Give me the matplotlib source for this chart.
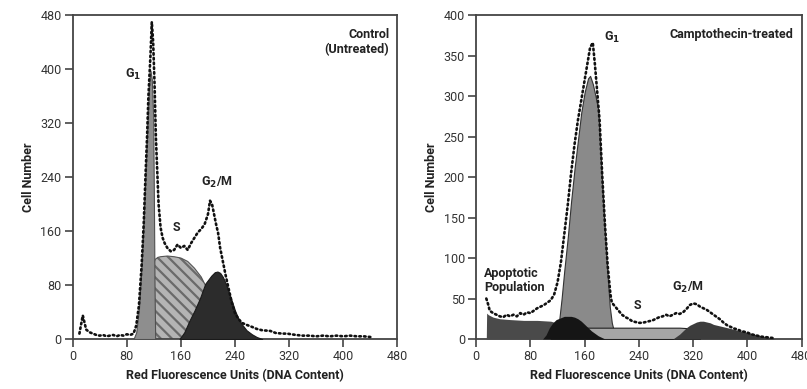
import matplotlib
matplotlib.use("Agg")
import matplotlib.pyplot as plt
import numpy as np

FONT = ['Liberation Sans Narrow', 'Roboto', 'DejaVu Sans']
plt.rcParams['font.family'] = FONT
plt.rcParams['hatch.linewidth'] = 1.6

# ---------------- Control (untreated) ----------------
ctrl_x = [10, 15, 20, 25, 30, 35, 40, 45, 50, 55, 60, 65, 70, 75, 80, 85, 90, 94,
          98, 102, 105, 108, 110, 112, 115, 117, 119, 121, 123, 125, 127, 130, 133,
          136, 140, 145, 150, 155, 160, 165, 170, 175, 180, 185, 190, 195, 200, 203,
          206, 209, 212, 215, 218, 222, 226, 230, 235, 240, 245, 250, 257, 265, 272,
          280, 292, 300, 310, 317, 330, 340, 350, 360, 370, 380, 390, 400, 410, 420,
          430, 440]
ctrl_y = [8, 35, 14, 10, 8, 6, 5, 6, 4, 5, 6, 4, 6, 5, 7, 6, 8, 20,
          50, 110, 170, 250, 300, 360, 420, 470, 440, 380, 300, 250, 200, 165, 150,
          142, 135, 130, 132, 140, 135, 138, 132, 142, 150, 158, 163, 170, 185, 205,
          200, 185, 170, 157, 135, 115, 95, 77, 55, 38, 30, 24, 21, 18, 15,
          13, 12, 9, 8, 8, 6, 5, 5, 4, 5, 4, 5, 4, 5, 4,
          4, 3]

ctrl_g1_x = [90, 94, 98, 102, 106, 110, 113, 115, 117, 119, 120, 121, 122]
ctrl_g1_y = [0, 10, 45, 110, 200, 300, 375, 398, 385, 330, 220, 80, 0]

ctrl_s_x = [115, 117, 119, 122, 126, 130, 140, 150, 160, 170, 180, 190, 200, 210, 215, 220]
ctrl_s_y = [0, 80, 110, 118, 121, 122, 123, 122, 120, 115, 105, 92, 72, 45, 25, 0]

ctrl_g2_x = [158, 165, 173, 180, 188, 196, 205, 210, 214, 218, 222, 226, 230, 235,
             240, 245, 250, 257, 265, 272, 280]
ctrl_g2_y = [0, 10, 28, 42, 60, 82, 94, 99, 100, 98, 92, 83, 72, 57,
             42, 30, 22, 13, 7, 3, 0]

# ---------------- Camptothecin-treated ----------------
camp_x = [15, 18, 20, 25, 30, 35, 40, 45, 50, 55, 60, 65, 70, 75, 80, 85, 90, 95,
          100, 105, 110, 115, 120, 125, 130, 135, 140, 145, 150, 155, 160, 165, 168,
          172, 175, 178, 182, 186, 190, 194, 198, 200, 205, 210, 215, 220, 225, 230,
          235, 240, 245, 250, 255, 260, 265, 270, 275, 280, 285, 290, 295, 300, 305,
          310, 315, 320, 325, 330, 335, 340, 345, 350, 355, 360, 365, 370, 375, 380,
          385, 390, 395, 400, 405, 410, 415, 420, 430, 440]
camp_y = [50, 42, 35, 32, 30, 28, 27, 30, 28, 30, 28, 32, 30, 33, 32, 35, 38, 40,
          42, 45, 48, 55, 70, 95, 130, 165, 205, 240, 270, 295, 320, 345, 360,
          366, 340, 310, 270, 200, 140, 90, 55, 45, 40, 35, 30, 27, 25, 22,
          21, 20, 20, 21, 22, 23, 25, 27, 28, 30, 28, 30, 32, 31, 33,
          37, 42, 44, 43, 40, 38, 36, 33, 30, 27, 24, 20, 17, 15, 13,
          12, 10, 9, 8, 6, 5, 4, 3, 2, 1]

camp_apo_x = [15, 15.5, 18, 25, 35, 50, 70, 90, 110, 118, 120]
camp_apo_y = [0, 32, 30, 27, 25, 24, 23, 23, 22, 20, 0]

camp_s_x = [110, 120, 200, 250, 300, 320, 330]
camp_s_y = [0, 14, 14, 14, 14, 13, 0]

camp_g1_x = [118, 122, 126, 130, 135, 140, 145, 150, 155, 160, 165, 168, 172, 176,
             180, 184, 188, 192, 197, 200, 203, 206]
camp_g1_y = [0, 20, 50, 85, 125, 170, 210, 245, 280, 305, 322, 325, 315, 300,
             283, 220, 158, 100, 40, 20, 10, 0]

camp_bump_x = [98, 103, 108, 113, 118, 124, 130, 140, 145, 150, 155, 160, 165, 170,
               175, 180, 185, 190]
camp_bump_y = [0, 5, 14, 20, 24, 26, 28, 28, 27, 25, 22, 18, 14, 10,
               7, 4, 2, 0]

camp_g2_x = [290, 295, 300, 305, 310, 315, 320, 325, 330, 335, 340, 345, 350, 355,
             360, 370, 380, 390, 400, 410, 420, 430, 440]
camp_g2_y = [0, 3, 6, 10, 14, 17, 19, 21, 22, 22, 21, 20, 18, 17,
             16, 14, 12, 10, 8, 6, 4, 2, 0]

x_ticks = [0, 80, 160, 240, 320, 400, 480]
ctrl_yticks = [0, 80, 160, 240, 320, 400, 480]
camp_yticks = [0, 50, 100, 150, 200, 250, 300, 350, 400]

fig = plt.figure(figsize=(8.07, 3.89), dpi=100)
ax1 = fig.add_axes([0.090, 0.1285, 0.4025, 0.8325])
ax2 = fig.add_axes([0.590, 0.1285, 0.4035, 0.8325])

def style(ax, yticks, ymax):
    ax.set_xlim(0, 480)
    ax.set_ylim(0, ymax)
    ax.set_xticks(x_ticks)
    ax.set_yticks(yticks)
    for s in ax.spines.values():
        s.set_color('#444444')
        s.set_linewidth(1.3)
    ax.tick_params(direction='out', length=6, width=1.2, color='#444444',
                   labelsize=9, labelcolor='#333333', pad=2)
    ax.set_xlabel('Red Fluorescence Units (DNA Content)', fontsize=9,
                  fontweight='bold', color='#222222', labelpad=4)
    ax.set_ylabel('Cell Number', fontsize=9, fontweight='bold', color='#222222',
                  labelpad=4)

dots = dict(color='#111111', lw=1.9, linestyle=(0, (0.6, 1.2)),
            dash_capstyle='round', zorder=6)

# Left panel
ax1.fill_between(ctrl_s_x, ctrl_s_y, color='#b4b4b4', hatch='\\\\\\',
                 edgecolor='#6a6a6a', linewidth=0, zorder=2)
ax1.plot(ctrl_s_x, ctrl_s_y, color='#555555', lw=0.8, zorder=2)
ax1.fill_between(ctrl_g1_x, ctrl_g1_y, color='#8e8e8e', edgecolor='#505050',
                 linewidth=0.8, zorder=3)
ax1.fill_between(ctrl_g2_x, ctrl_g2_y, color='#2c2c2c', edgecolor='#1a1a1a',
                 linewidth=0.8, zorder=3)
ax1.plot(ctrl_x, ctrl_y, **dots)
style(ax1, ctrl_yticks, 480)
ax1.text(0.975, 0.96, 'Control\n(Untreated)', transform=ax1.transAxes, ha='right',
         va='top', fontsize=9, fontweight='bold', color='#222222', linespacing=1.2)
ax1.text(89, 392, 'G$_\\mathbf{1}$', ha='center', va='center', fontsize=9,
         fontweight='bold', color='#222222')
ax1.text(154, 165, 'S', ha='center', va='center', fontsize=9, fontweight='bold',
         color='#222222')
ax1.text(213, 232, 'G$_\\mathbf{2}$/M', ha='center', va='center', fontsize=9,
         fontweight='bold', color='#222222')

# Right panel
ax2.fill_between(camp_g1_x, camp_g1_y, color='#8a8a8a', edgecolor='#333333',
                 linewidth=0.8, zorder=2)
ax2.fill_between(camp_apo_x, camp_apo_y, color='#4a4a4a', linewidth=0, zorder=3)
ax2.fill_between(camp_s_x, camp_s_y, color='#a6a6a6', edgecolor='#222222',
                 linewidth=0.8, zorder=3)
ax2.fill_between(camp_g2_x, camp_g2_y, color='#3c3c3c', linewidth=0, zorder=4)
ax2.fill_between(camp_bump_x, camp_bump_y, color='#151515', linewidth=0, zorder=4)
ax2.plot(camp_x, camp_y, **dots)
style(ax2, camp_yticks, 400)
ax2.text(0.975, 0.96, 'Camptothecin-treated', transform=ax2.transAxes, ha='right',
         va='top', fontsize=9, fontweight='bold', color='#222222')
ax2.text(200, 372, 'G$_\\mathbf{1}$', ha='center', va='center', fontsize=9,
         fontweight='bold', color='#222222')
ax2.text(12, 72, 'Apoptotic\nPopulation', ha='left', va='center', fontsize=9,
         fontweight='bold', color='#222222', linespacing=1.1)
ax2.text(238, 42, 'S', ha='center', va='center', fontsize=9, fontweight='bold',
         color='#222222')
ax2.text(312, 64, 'G$_\\mathbf{2}$/M', ha='center', va='center', fontsize=9,
         fontweight='bold', color='#222222')

fig.savefig('out.png', dpi=100)
